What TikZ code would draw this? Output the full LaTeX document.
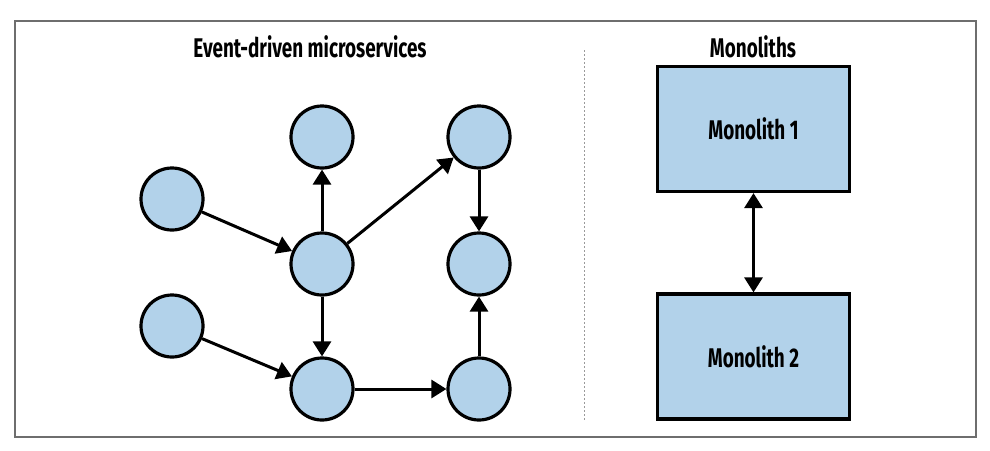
\documentclass[tikz,border=0pt]{standalone}
\usepackage{fontspec}
\setmainfont{Fira Sans}[FakeStretch=0.70]
\usetikzlibrary{shapes.geometric, arrows.meta}
\definecolor{svcblue}{RGB}{178,210,234}
\definecolor{framegray}{RGB}{110,110,110}
\tikzstyle{service} = [circle, draw, fill=svcblue, line width=3.2pt, minimum size=62pt, inner sep=0pt]
\tikzstyle{monolith} = [rectangle, draw, fill=svcblue, line width=3.2pt, minimum width=192pt, minimum height=125pt, font=\fontsize{27}{30}\selectfont\bfseries]
\tikzstyle{heading} = [anchor=base, inner sep=0pt, font=\fontsize{27}{30}\selectfont\bfseries]
\tikzstyle{arrow} = [line width=3pt, -{Triangle[length=15pt, width=18pt]}]
\tikzstyle{twoway} = [line width=3pt, {Triangle[length=15pt, width=18pt]}-{Triangle[length=15pt, width=18pt]}]

\begin{document}
\begin{tikzpicture}[x=1pt, y=-1pt]

\useasboundingbox (0,0) rectangle (990,450);
\draw [framegray, line width=1.5pt] (15,21) rectangle (976,437);
\draw [framegray!70, line width=0.6pt, dash pattern=on 2pt off 2pt] (584,50) -- (584,421);

% event-driven side
\node (evtitle) [heading] at (310,57) {Event-driven microservices};
\node (src1) [service] at (172,199) {};
\node (src2) [service] at (172,326) {};
\node (top)  [service] at (322,137) {};
\node (hub)  [service] at (322,264) {};
\node (low)  [service] at (322,389) {};
\node (topr) [service] at (479,137) {};
\node (midr) [service] at (479,264) {};
\node (lowr) [service] at (479,389) {};

\draw [arrow] (src1) -- (hub);
\draw [arrow] (src2) -- (low);
\draw [arrow] (hub) -- (top);
\draw [arrow] (hub) -- (topr);
\draw [arrow] (hub) -- (low);
\draw [arrow] (topr) -- (midr);
\draw [arrow] (low) -- (lowr);
\draw [arrow] (lowr) -- (midr);

% monolith side
\node (motitle) [heading] at (753,57) {Monoliths};
\node (mono1) [monolith] at (753.5,129) {Monolith 1};
\node (mono2) [monolith] at (753.5,356.5) {Monolith 2};

\draw [twoway] (mono1) -- (mono2);

\end{tikzpicture}
\end{document}
